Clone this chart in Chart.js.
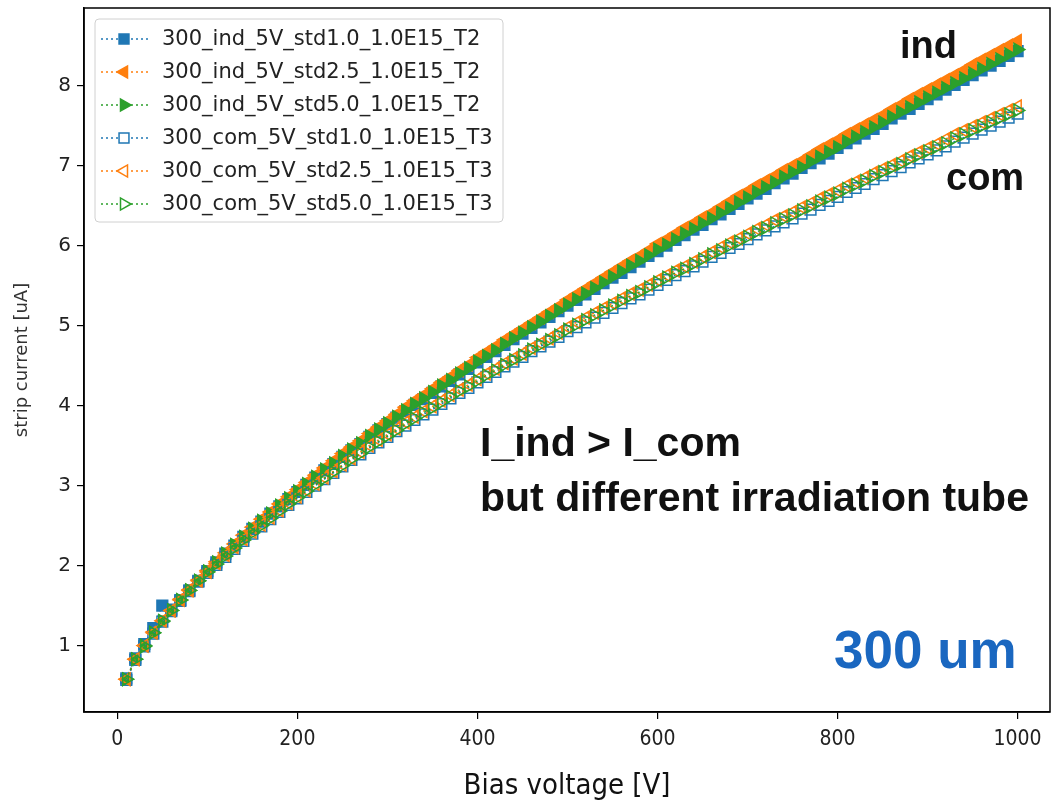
<!DOCTYPE html>
<html>
<head>
<meta charset="utf-8">
<script src="https://cdn.jsdelivr.net/npm/chart.js@4.4.1/dist/chart.umd.min.js"></script>
<style>
body { margin: 0; background: #fff; }
canvas { display: block; }
</style>
</head>
<body>
<canvas id="ivCanvas" width="1052" height="809"></canvas>
<script>
// bias voltage [V]
const voltage = [10,20,30,40,50,60,70,80,90,100,110,120,130,140,150,160,170,180,190,200,
    210,220,230,240,250,260,270,280,290,300,310,320,330,340,350,360,370,380,390,400,
    410,420,430,440,450,460,470,480,490,500,510,520,530,540,550,560,570,580,590,600,
    610,620,630,640,650,660,670,680,690,700,710,720,730,740,750,760,770,780,790,800,
    810,820,830,840,850,860,870,880,890,900,910,920,930,940,950,960,970,980,990,1000];

const seriesNames = ["300_ind_5V_std1.0_1.0E15_T2","300_ind_5V_std2.5_1.0E15_T2","300_ind_5V_std5.0_1.0E15_T2",
    "300_com_5V_std1.0_1.0E15_T3","300_com_5V_std2.5_1.0E15_T3","300_com_5V_std5.0_1.0E15_T3"];

// strip current [uA]
const indStd10 = [0.59,0.84,1.02,1.22,1.50,1.45,1.57,1.69,1.81,1.93,
    2.04,2.15,2.25,2.36,2.46,2.55,2.65,2.74,2.83,2.92,
    3.01,3.10,3.19,3.27,3.36,3.44,3.52,3.61,3.69,3.77,
    3.85,3.93,4.01,4.08,4.16,4.24,4.31,4.39,4.46,4.54,
    4.61,4.68,4.76,4.83,4.90,4.97,5.04,5.11,5.18,5.25,
    5.32,5.39,5.46,5.53,5.60,5.66,5.73,5.80,5.87,5.93,
    6.00,6.07,6.13,6.20,6.26,6.33,6.39,6.46,6.52,6.59,
    6.65,6.71,6.78,6.84,6.90,6.97,7.03,7.09,7.15,7.22,
    7.28,7.34,7.40,7.46,7.52,7.59,7.65,7.71,7.77,7.83,
    7.89,7.95,8.01,8.07,8.13,8.19,8.25,8.31,8.37,8.43];
const indStd25 = [0.58,0.83,1.00,1.17,1.31,1.44,1.58,1.70,1.82,1.94,
    2.05,2.16,2.27,2.38,2.48,2.58,2.67,2.77,2.86,2.95,
    3.04,3.13,3.22,3.31,3.40,3.48,3.56,3.65,3.73,3.81,
    3.89,3.98,4.06,4.13,4.21,4.29,4.36,4.44,4.51,4.60,
    4.67,4.74,4.82,4.89,4.96,5.03,5.10,5.17,5.24,5.32,
    5.39,5.46,5.53,5.60,5.67,5.74,5.81,5.87,5.94,6.02,
    6.08,6.15,6.22,6.28,6.35,6.41,6.48,6.55,6.62,6.68,
    6.75,6.81,6.87,6.94,7.00,7.06,7.13,7.20,7.26,7.32,
    7.39,7.45,7.51,7.57,7.63,7.70,7.76,7.83,7.89,7.95,
    8.01,8.07,8.13,8.19,8.26,8.32,8.38,8.44,8.50,8.56];
const indStd50 = [0.58,0.83,1.00,1.16,1.30,1.44,1.57,1.69,1.81,1.93,
    2.04,2.15,2.26,2.36,2.46,2.56,2.65,2.75,2.84,2.93,
    3.02,3.11,3.20,3.28,3.37,3.45,3.53,3.62,3.70,3.78,
    3.86,3.94,4.02,4.09,4.17,4.25,4.32,4.40,4.47,4.55,
    4.62,4.69,4.77,4.84,4.91,4.98,5.05,5.12,5.19,5.26,
    5.33,5.40,5.47,5.54,5.61,5.68,5.75,5.81,5.88,5.95,
    6.01,6.08,6.15,6.21,6.28,6.34,6.41,6.47,6.54,6.60,
    6.67,6.73,6.79,6.86,6.92,6.98,7.05,7.11,7.17,7.23,
    7.30,7.36,7.42,7.48,7.54,7.61,7.67,7.73,7.79,7.85,
    7.91,7.97,8.03,8.09,8.15,8.21,8.27,8.33,8.39,8.45];
const comStd10 = [0.57,0.82,0.99,1.15,1.30,1.43,1.56,1.68,1.80,1.91,
    2.01,2.11,2.21,2.31,2.40,2.49,2.58,2.67,2.76,2.84,
    2.92,3.00,3.08,3.16,3.24,3.32,3.39,3.47,3.54,3.61,
    3.68,3.75,3.82,3.89,3.95,4.02,4.09,4.16,4.22,4.29,
    4.36,4.42,4.49,4.55,4.61,4.68,4.74,4.80,4.86,4.93,
    4.98,5.04,5.10,5.16,5.22,5.28,5.34,5.39,5.45,5.51,
    5.57,5.63,5.68,5.74,5.80,5.86,5.91,5.97,6.02,6.08,
    6.14,6.19,6.24,6.29,6.34,6.40,6.45,6.51,6.56,6.61,
    6.67,6.72,6.77,6.83,6.88,6.93,6.98,7.04,7.09,7.14,
    7.19,7.24,7.30,7.35,7.40,7.45,7.50,7.55,7.60,7.65];
const comStd25 = [0.58,0.83,1.00,1.16,1.31,1.44,1.57,1.69,1.81,1.92,
    2.03,2.13,2.23,2.33,2.42,2.51,2.60,2.69,2.78,2.86,
    2.94,3.02,3.10,3.18,3.26,3.34,3.42,3.50,3.57,3.64,
    3.71,3.79,3.86,3.93,3.99,4.06,4.13,4.20,4.26,4.33,
    4.40,4.46,4.53,4.59,4.65,4.72,4.78,4.84,4.91,4.98,
    5.04,5.10,5.16,5.22,5.28,5.34,5.40,5.45,5.51,5.57,
    5.63,5.69,5.74,5.80,5.86,5.92,5.98,6.04,6.09,6.15,
    6.21,6.26,6.32,6.37,6.42,6.48,6.53,6.59,6.64,6.69,
    6.75,6.80,6.85,6.91,6.96,7.01,7.06,7.12,7.17,7.22,
    7.27,7.33,7.39,7.44,7.49,7.54,7.59,7.64,7.69,7.74];
const comStd50 = [0.58,0.83,0.99,1.16,1.31,1.44,1.57,1.69,1.81,1.92,
    2.02,2.12,2.22,2.32,2.41,2.50,2.59,2.68,2.77,2.85,
    2.93,3.01,3.09,3.17,3.25,3.33,3.40,3.48,3.55,3.62,
    3.69,3.77,3.84,3.91,3.97,4.04,4.11,4.18,4.24,4.31,
    4.38,4.44,4.51,4.57,4.63,4.70,4.76,4.82,4.88,4.95,
    5.01,5.07,5.13,5.19,5.25,5.31,5.37,5.42,5.48,5.54,
    5.60,5.66,5.71,5.77,5.83,5.89,5.94,6.00,6.05,6.11,
    6.17,6.22,6.28,6.33,6.38,6.44,6.49,6.55,6.60,6.65,
    6.71,6.76,6.81,6.87,6.92,6.97,7.02,7.08,7.13,7.18,
    7.23,7.28,7.34,7.39,7.44,7.49,7.54,7.59,7.64,7.69];

const xTicks = [0, 200, 400, 600, 800, 1000];
const yTicks = [1, 2, 3, 4, 5, 6, 7, 8];

const seriesValues = [indStd10, indStd25, indStd50, comStd10, comStd25, comStd50];
const colors = ["#1f77b4", "#ff7f0e", "#2ca02c"];
const markerStyle = ["rect", "triangle", "triangle"];
const markerRot = [0, -90, 90];
const markerRad = [7.6, 7.2, 7.2];

const datasets = seriesValues.map((vals, i) => {
    const k = i % 3;
    const hollow = i >= 3;
    return {
        label: seriesNames[i],
        data: vals.map((v, j) => ({ x: voltage[j], y: v })),
        borderColor: colors[k],
        borderWidth: 1.5,
        borderDash: [2, 3],
        pointStyle: markerStyle[k],
        rotation: markerRot[k],
        pointRadius: markerRad[k],
        pointBorderColor: colors[k],
        pointBackgroundColor: hollow ? "rgba(255,255,255,0)" : colors[k],
        pointBorderWidth: 1.5,
        fill: false,
        order: seriesValues.length - i
    };
});

function drawMarker(ctx, style, rot, x, y, r, fill, stroke) {
    ctx.save();
    ctx.translate(x, y);
    ctx.rotate(rot * Math.PI / 180);
    ctx.beginPath();
    if (style === "rect") {
        const s = r * Math.SQRT1_2;
        ctx.rect(-s, -s, 2 * s, 2 * s);
    } else {
        ctx.moveTo(0, -r);
        ctx.lineTo(r * 0.866, r * 0.5);
        ctx.lineTo(-r * 0.866, r * 0.5);
        ctx.closePath();
    }
    if (fill) { ctx.fillStyle = fill; ctx.fill(); }
    ctx.lineWidth = 1.5;
    ctx.strokeStyle = stroke;
    ctx.stroke();
    ctx.restore();
}

const extras = {
    id: "extras",
    afterDraw(chart) {
        const ctx = chart.ctx;
        const a = chart.chartArea;
        ctx.save();
        // frame
        ctx.strokeStyle = "#000";
        ctx.lineWidth = 1.5;
        ctx.strokeRect(a.left, a.top, a.right - a.left, a.bottom - a.top);

        // legend
        const lx = 95, ly = 19, lw = 408, lh = 203;
        ctx.beginPath();
        ctx.roundRect(lx, ly, lw, lh, 4);
        ctx.fillStyle = "rgba(255,255,255,0.85)";
        ctx.fill();
        ctx.strokeStyle = "#d0d0d0";
        ctx.lineWidth = 1;
        ctx.stroke();
        ctx.font = "21px 'DejaVu Sans'";
        ctx.textBaseline = "middle";
        ctx.textAlign = "left";
        seriesNames.forEach((name, i) => {
            const k = i % 3;
            const y = ly + 20 + i * 33;
            ctx.strokeStyle = colors[k];
            ctx.lineWidth = 1.5;
            ctx.setLineDash([2, 3]);
            ctx.beginPath();
            ctx.moveTo(101, y);
            ctx.lineTo(148, y);
            ctx.stroke();
            ctx.setLineDash([]);
            drawMarker(ctx, markerStyle[k], markerRot[k], 124, y, 7,
                i >= 3 ? "#fff" : colors[k], colors[k]);
            ctx.fillStyle = "#222";
            ctx.fillText(name, 162, y + 1);
        });

        // annotations
        ctx.fillStyle = "#111";
        ctx.font = "bold 38px 'Liberation Sans', Arial, sans-serif";
        ctx.fillText("ind", 900, 48);
        ctx.fillText("com", 946, 180);
        ctx.font = "bold 41px 'Liberation Sans', Arial, sans-serif";
        ctx.fillText("I_ind > I_com", 480, 445);
        ctx.fillText("but different irradiation tube", 480, 500);
        ctx.fillStyle = "#1a67c0";
        ctx.font = "bold 53px 'Liberation Sans', Arial, sans-serif";
        ctx.fillText("300 um", 834, 653);
        ctx.restore();
    }
};

const ivCanvas = document.getElementById("ivCanvas");
const ivChart = new Chart(ivCanvas, {
    type: "line",
    data: { datasets: datasets },
    options: {
        responsive: false,
        animation: false,
        layout: { autoPadding: false, padding: { top: 8, right: 2, bottom: 0, left: 0 } },
        plugins: {
            legend: { display: false },
            tooltip: { enabled: false }
        },
        scales: {
            x: {
                type: "linear",
                min: -37,
                max: 1036,
                afterBuildTicks: (s) => { s.ticks = xTicks.map(v => ({ value: v })); },
                afterFit: (s) => { s.height = 97; s.paddingLeft = 0; s.paddingRight = 0; },
                grid: { drawOnChartArea: false, drawTicks: true, tickLength: 7, color: "#000", lineWidth: 1.2 },
                border: { display: true, color: "#000", width: 1.5 },
                ticks: {
                    color: "#222",
                    padding: 8,
                    maxRotation: 0,
                    callback: (v) => String(v),
                    font: { family: "'DejaVu Sans Condensed', 'DejaVu Sans'", size: 21 }
                },
                title: {
                    display: true,
                    text: "Bias voltage [V]",
                    color: "#111",
                    padding: { top: 0, bottom: 5 },
                    font: { family: "'Liberation Sans Narrow', 'DejaVu Sans Condensed', sans-serif", size: 29 }
                }
            },
            y: {
                type: "linear",
                min: 0.17,
                max: 8.97,
                afterBuildTicks: (s) => { s.ticks = yTicks.map(v => ({ value: v })); },
                afterFit: (s) => { s.width = 84; s.paddingTop = 0; s.paddingBottom = 0; },
                grid: { drawOnChartArea: false, drawTicks: true, tickLength: 7, color: "#000", lineWidth: 1.2 },
                border: { display: true, color: "#000", width: 1.5 },
                ticks: {
                    color: "#222",
                    padding: 6,
                    font: { family: "'DejaVu Sans'", size: 20 }
                },
                title: {
                    display: true,
                    text: "strip current [uA]",
                    color: "#333",
                    padding: { top: 12, bottom: 0 },
                    font: { family: "'DejaVu Sans'", size: 18 }
                }
            }
        }
    },
    plugins: [extras]
});
</script>
</body>
</html>
